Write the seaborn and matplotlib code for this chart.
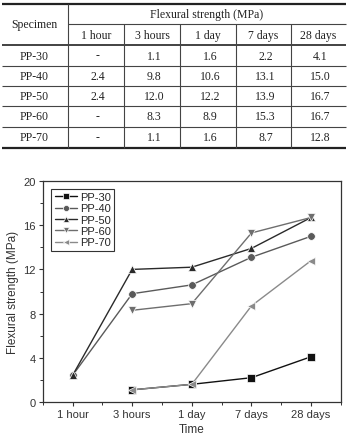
import numpy as np
import pandas as pd
import seaborn as sns
import matplotlib.pyplot as plt
from matplotlib.ticker import MultipleLocator

times = ['1 hour', '3 hours', '1 day', '7 days', '28 days']
specimens = ['PP-30', 'PP-40', 'PP-50', 'PP-60', 'PP-70']
pp30 = [np.nan, 1.1, 1.6, 2.2, 4.1]
pp40 = [2.4, 9.8, 10.6, 13.1, 15.0]
pp50 = [2.4, 12.0, 12.2, 13.9, 16.7]
pp60 = [np.nan, 8.3, 8.9, 15.3, 16.7]
pp70 = [np.nan, 1.1, 1.6, 8.7, 12.8]
series = [pp30, pp40, pp50, pp60, pp70]

colors = ['#111111', '#5a5a5a', '#2a2a2a', '#6e6e6e', '#8a8a8a']
marks = ['s', 'o', '^', 'v', '<']

rows = []
for name, vals in zip(specimens, series):
    for i, v in enumerate(vals):
        rows.append({'pos': i, 'Specimen': name, 'Strength': v})
df = pd.DataFrame(rows).dropna()

sns.set_style('ticks')
plt.rcParams['font.family'] = ['Liberation Sans', 'DejaVu Sans']

fig = plt.figure(figsize=(3.48, 4.39), dpi=100)

# ---- table drawn in pixel coordinates ----
tab = fig.add_axes([0, 0, 1, 1], zorder=0)
tab.set_xlim(0, 348)
tab.set_ylim(439, 0)
tab.axis('off')
serif = dict(family=['Liberation Serif', 'DejaVu Serif'], fontsize=8.5, color='#222222',
             ha='center', va='center')
col_edges = [68, 124, 180, 236, 291, 346]
row_edges = [46, 67, 87, 107, 128, 149]
tab.hlines([5, 149], 2, 346, color='#222222', lw=1.6)
tab.hlines([46], 2, 346, color='#222222', lw=1.2)
tab.hlines(row_edges[1:-1], 2, 346, color='#444444', lw=0.8)
tab.hlines([25], 68, 346, color='#444444', lw=0.8)
tab.vlines([68], 5, 149, color='#444444', lw=0.8)
tab.vlines(col_edges[1:-1], 25, 149, color='#444444', lw=0.8)
tab.text(34, 25, 'Specimen', **serif)
tab.text(207, 15, 'Flexural strength (MPa)', **serif)
for i, t in enumerate(times):
    cx = (col_edges[i] + col_edges[i + 1]) / 2
    tab.text(cx, 36, t, **serif)
for r, (name, vals) in enumerate(zip(specimens, series)):
    cy = (row_edges[r] + row_edges[r + 1]) / 2
    tab.text(34, cy, name, **serif)
    for i, v in enumerate(vals):
        cx = (col_edges[i] + col_edges[i + 1]) / 2 + 2
        tab.text(cx, cy, '-' if np.isnan(v) else f'{v:.1f}', **serif)

# ---- line chart ----
ax = fig.add_axes([0.1227, 0.082, 0.857, 0.5034], zorder=1)
sns.lineplot(data=df, x='pos', y='Strength', hue='Specimen', style='Specimen',
             hue_order=specimens, style_order=specimens,
             palette=dict(zip(specimens, colors)), markers=dict(zip(specimens, marks)),
             dashes=False, markersize=5.5, linewidth=1.0, markeredgewidth=0.5,
             ax=ax)
ax.set_xlim(-0.5, 4.5)
ax.set_ylim(0, 20)
ax.set_xticks(range(len(times)))
ax.set_xticklabels(times)
ax.yaxis.set_major_locator(MultipleLocator(4))
ax.yaxis.set_minor_locator(MultipleLocator(2))
ax.xaxis.set_minor_locator(MultipleLocator(0.5))
for s in ax.spines.values():
    s.set_visible(True)
    s.set_color('#333333')
    s.set_linewidth(0.9)
ax.tick_params(which='major', direction='out', length=3, width=0.8, color='#333333',
               labelsize=8, labelcolor='#333333', pad=2)
ax.tick_params(which='minor', direction='out', length=2, width=0.7, color='#333333')
ax.set_xlabel('Time', fontsize=8.5, color='#333333', labelpad=3)
ax.set_ylabel('Flexural strength (MPa)', fontsize=8.5, color='#333333', labelpad=3)
leg = ax.legend(loc='upper left', fontsize=8, frameon=True, fancybox=False,
                edgecolor='#333333', framealpha=1, handlelength=2.0,
                handletextpad=0.3, borderpad=0.3, labelspacing=0.12,
                bbox_to_anchor=(0.01, 0.99), markerscale=0.8)
leg.get_frame().set_linewidth(0.8)

fig.savefig('out.png', dpi=100)
